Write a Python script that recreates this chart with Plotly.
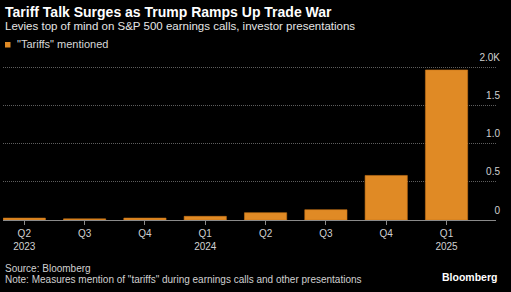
import plotly.graph_objects as go

quarters = ["Q2<br>2023", "Q3", "Q4", "Q1<br>2024", "Q2", "Q3", "Q4", "Q1<br>2025"]
mentions = [25, 15, 25, 48, 96, 135, 585, 1970]
y_tickvals = [0, 500, 1000, 1500, 2000]
y_ticktext = ["0", "0.5", "1.0", "1.5", "2.0K"]

ORANGE = "#e08a25"
FONT = "Liberation Sans"

W, H = 511, 292
l, r, t, b = 3, 15, 48, 72
pw, ph = W - l - r, H - t - b
# zero line at y=220 px, 2000 at y=67.7 px
px_per_unit = (220 - 67.7) / 2000
y_max = ph / px_per_unit

fig = go.Figure()
fig.add_trace(go.Bar(
    x=list(range(len(quarters))), y=mentions, width=0.7,
    marker=dict(color=ORANGE, line=dict(color="#c77418", width=0.6)),
    name='"Tariffs" mentioned', showlegend=False,
))

anns = [
    dict(text="<b>Tariff Talk Surges as Trump Ramps Up Trade War</b>", px=3, py=11.5,
         size=14, color="#ffffff", xanchor="left"),
    dict(text="Levies top of mind on S&P 500 earnings calls, investor presentations", px=3, py=25.5,
         size=11.5, color="#e6e6e6", xanchor="left"),
    dict(text='"Tariffs" mentioned', px=15, py=44.5, size=11, color="#d8d8d8", xanchor="left"),
    dict(text="Source: Bloomberg", px=3, py=268.5, size=10, color="#d0d0d0", xanchor="left"),
    dict(text='Note: Measures mention of "tariffs" during earnings calls and other presentations',
         px=3, py=279.5, size=10, color="#d0d0d0", xanchor="left"),
    dict(text="<b>Bloomberg</b>", px=499, py=277, size=10.5, color="#ffffff", xanchor="right"),
]
annotations = []
for a in anns:
    annotations.append(dict(
        text=a["text"], x=(a["px"] - l) / pw, y=(H - b - a["py"]) / ph,
        xref="paper", yref="paper", xanchor=a["xanchor"], yanchor="middle",
        showarrow=False, font=dict(size=a["size"], color=a["color"], family=FONT),
    ))

fig.update_layout(
    width=W, height=H,
    margin=dict(l=l, r=r, t=t, b=b),
    paper_bgcolor="#000000", plot_bgcolor="#000000",
    font=dict(family=FONT, color="#d0d0d0", size=10),
    bargap=0.3,
    xaxis=dict(
        range=[-0.353, 7.82],
        tickmode="array", tickvals=list(range(len(quarters))), ticktext=quarters,
        showgrid=False, zeroline=False,
        showline=True, linecolor="#8a8a8a", linewidth=1,
        ticks="outside", ticklen=4, tickcolor="#8a8a8a", tickwidth=1,
        tickfont=dict(size=10, color="#d0d0d0", family=FONT),
        fixedrange=True,
    ),
    yaxis=dict(
        range=[0, y_max], side="right",
        tickmode="array", tickvals=y_tickvals, ticktext=y_ticktext,
        ticklabelposition="inside", ticklabelstandoff=-7, ticklabelshift=-10,
        showgrid=True, gridcolor="#5e5e5e", griddash="1px,1px", gridwidth=1,
        zeroline=False, showline=False, ticks="",
        tickfont=dict(size=10, color="#d0d0d0", family=FONT),
        fixedrange=True,
    ),
    annotations=annotations,
)

fig.add_shape(type="rect", xref="paper", yref="paper",
              x0=(5 - l) / pw, x1=(10.5 - l) / pw,
              y0=(H - b - 47.5) / ph, y1=(H - b - 42) / ph,
              fillcolor=ORANGE, line=dict(width=0))

fig.write_html("out.html", config={"displayModeBar": False})
